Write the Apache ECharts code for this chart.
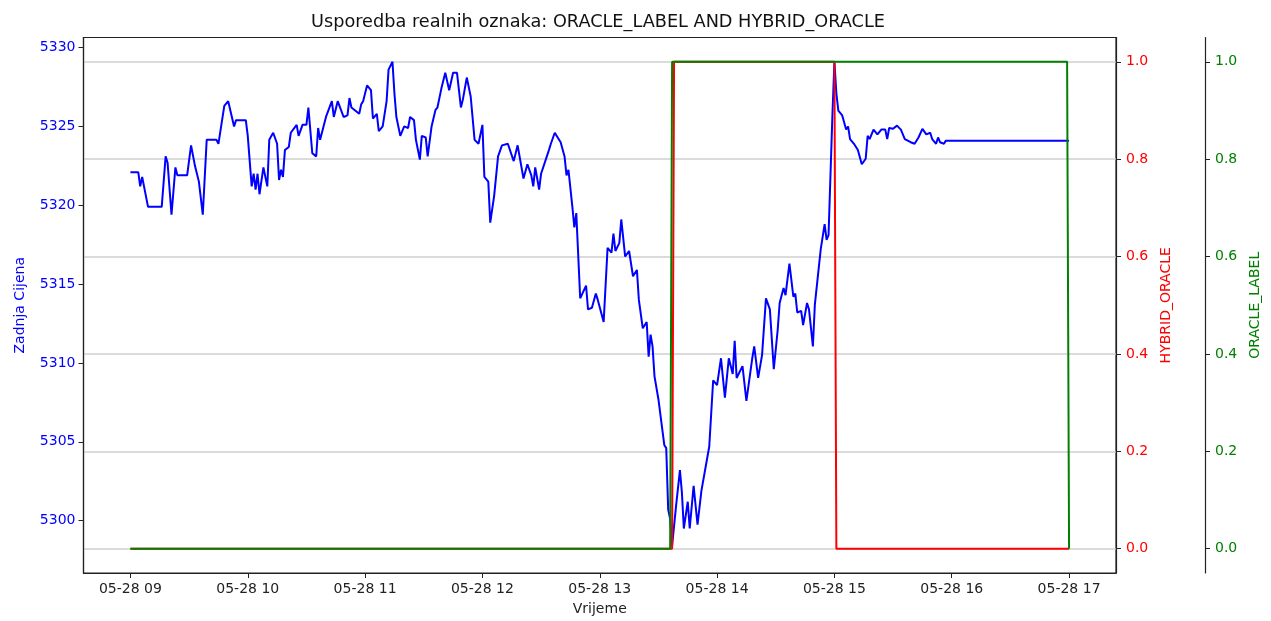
<!DOCTYPE html>
<html>
<head>
<meta charset="utf-8">
<title>Usporedba realnih oznaka</title>
<script src="https://cdn.jsdelivr.net/npm/echarts@6/dist/echarts.min.js"></script>
<style>
  html, body { margin: 0; padding: 0; background: #fff; }
  #chart { width: 1271px; height: 621px; }
</style>
</head>
<body>
<div id="chart"></div>
<script>
// minutes after 05-28 09:00
const priceMinutes = [
  0, 4, 5, 6, 7, 9, 16, 18, 19, 21, 23, 24, 29, 31, 33, 35, 37, 39, 44, 45,
  48, 49, 50, 53, 54, 59, 60, 62, 63, 64, 65, 66, 68, 70, 71, 73, 75, 76, 77, 78,
  79, 81, 82, 85, 86, 88, 90, 91, 93, 95, 96, 97, 100, 101, 103, 104, 106, 109, 111, 112,
  113, 117, 118, 119, 121, 123, 124, 126, 127, 129, 131, 132, 133, 134, 135, 136, 138, 140, 142, 143,
  145, 146, 148, 149, 151, 152, 154, 156, 157, 159, 161, 163, 165, 167, 169, 170, 172, 174, 176, 178,
  180, 181, 183, 184, 186, 188, 190, 193, 196, 198, 201, 203, 205, 206, 207, 209, 210, 214, 215, 217,
  220, 222, 223, 224, 226, 227, 228, 230, 233, 234, 236, 238, 239, 242, 244, 246, 247, 248, 250, 251,
  253, 255, 257, 259, 260, 262, 264, 265, 266, 267, 268, 270, 273, 274, 275, 276, 277, 279, 281, 282,
  283, 285, 286, 288, 290, 292, 293, 296, 298, 300, 302, 304, 306, 308, 309, 310, 313, 315, 318, 319,
  321, 323, 325, 327, 329, 331, 332, 334, 335, 337, 339, 340, 341, 343, 344, 346, 347, 349, 350, 351,
  353, 355, 356, 357, 359, 360, 361, 362, 364, 366, 367, 368, 370, 372, 374, 375, 376, 377, 378, 380,
  382, 384, 386, 387, 388, 390, 392, 394, 396, 399, 401, 403, 405, 407, 409, 410, 412, 413, 414, 416,
  417, 480
];
const priceValues = [
  5322.1, 5322.1, 5321.2, 5321.8, 5321.7, 5319.9, 5319.9, 5323.1, 5322.7, 5319.4, 5322.4, 5321.9, 5321.9, 5323.8, 5322.5, 5321.5, 5319.4, 5324.15, 5324.15, 5323.9,
  5326.3, 5326.4, 5326.6, 5325.0, 5325.4, 5325.4, 5324.4, 5321.2, 5322.0, 5321.0, 5322.0, 5320.7, 5322.4, 5321.2, 5324.15, 5324.6, 5323.9, 5321.6, 5322.25, 5321.8,
  5323.5, 5323.7, 5324.6, 5325.1, 5324.4, 5325.1, 5325.1, 5326.2, 5323.3, 5323.1, 5324.9, 5324.15, 5325.6, 5325.7, 5326.6, 5325.6, 5326.6, 5325.6, 5325.7, 5326.8,
  5326.2, 5325.8, 5326.4, 5326.6, 5327.6, 5327.3, 5325.5, 5325.8, 5324.7, 5325.0, 5326.6, 5328.6, 5328.6, 5329.1, 5327.1, 5325.6, 5324.4, 5325.0, 5324.9, 5325.6,
  5325.4, 5324.15, 5322.9, 5324.4, 5324.3, 5323.1, 5325.0, 5326.05, 5326.2, 5327.4, 5328.4, 5327.3, 5328.4, 5328.4, 5326.2, 5326.7, 5328.1, 5326.9, 5324.15, 5323.9,
  5325.1, 5321.8, 5321.5, 5318.9, 5320.6, 5323.1, 5323.8, 5323.9, 5322.8, 5323.8, 5321.7, 5322.6, 5321.9, 5321.2, 5322.4, 5321.0, 5322.0, 5323.5, 5323.9, 5324.6,
  5324.0, 5323.1, 5321.9, 5322.25, 5319.9, 5318.6, 5319.5, 5314.1, 5314.9, 5313.4, 5313.5, 5314.4, 5314.0, 5312.6, 5317.3, 5317.0, 5318.2, 5317.1, 5317.6, 5319.1,
  5316.75, 5317.1, 5315.5, 5315.9, 5314.0, 5312.2, 5312.6, 5310.4, 5311.8, 5311.05, 5309.15, 5307.7, 5304.8, 5304.6, 5300.7, 5300.1, 5298.4, 5300.9, 5303.2, 5301.8,
  5299.5, 5301.2, 5299.5, 5302.2, 5299.75, 5301.9, 5302.0, 5304.7, 5308.9, 5308.6, 5310.3, 5307.8, 5310.3, 5309.3, 5311.4, 5309.05, 5309.8, 5307.6, 5310.3, 5311.05,
  5309.05, 5310.5, 5314.1, 5313.4, 5309.6, 5312.1, 5313.8, 5314.75, 5314.3, 5316.3, 5314.2, 5314.4, 5313.2, 5313.3, 5312.4, 5313.8, 5313.4, 5311.05, 5313.7, 5313.7,
  5317.2, 5318.8, 5317.8, 5318.1, 5325.8, 5329.1, 5327.1, 5326.0, 5325.7, 5324.8, 5325.0, 5324.2, 5323.9, 5323.5, 5322.6, 5322.5, 5322.95, 5324.4, 5324.2, 5324.8,
  5324.5, 5324.8, 5324.8, 5324.2, 5324.9, 5324.85, 5325.05, 5324.8, 5324.2, 5324.0, 5323.9, 5324.3, 5324.85, 5324.5, 5324.6, 5324.2, 5323.9, 5324.3, 5324.0, 5323.9,
  5324.1, 5324.1
];

const hybridMinutes = [0, 277, 278, 360, 361, 480];
const hybridValues = [0, 0, 1, 1, 0, 0];

const labelMinutes = [0, 276, 277, 479, 480];
const labelValues = [0, 0, 1, 1, 0];

const hourTicks = [0, 60, 120, 180, 240, 300, 360, 420, 480];
const priceTicks = [5300, 5305, 5310, 5315, 5320, 5325, 5330];
const oracleTicks = [0, 0.2, 0.4, 0.6, 0.8, 1.0];

function pairs (xs, ys) {
  return xs.map((x, i) => [x, ys[i]])
}

const font = 'DejaVu Sans'

function oracleAxis (name, color, offset) {
  return {
    type: 'value',
    position: 'right',
    offset: offset,
    min: -0.05,
    max: 1.05,
    name: name,
    nameLocation: 'middle',
    nameRotate: 90,
    nameGap: 40,
    nameTextStyle: { color: color, fontFamily: font, fontSize: 14 },
    axisLine: { show: true, onZero: false, lineStyle: { color: '#222', width: 1.2 } },
    axisTick: { show: true, length: 5, customValues: oracleTicks, lineStyle: { color: '#222' } },
    axisLabel: {
      customValues: oracleTicks,
      margin: 10,
      color: color,
      fontFamily: font,
      fontSize: 14,
      formatter: v => v.toFixed(1)
    },
    splitLine: { show: false }
  }
}

const chart = echarts.init(document.getElementById('chart'))

const hybridAxis = oracleAxis('HYBRID_ORACLE', 'red', 0)
hybridAxis.splitLine = { show: true, lineStyle: { color: '#cfcfcf', width: 1.5 } }
const labelAxis = oracleAxis('ORACLE_LABEL', 'green', 89)

chart.setOption({
  animation: false,
  backgroundColor: '#fff',
  title: {
    text: 'Usporedba realnih oznaka: ORACLE_LABEL AND HYBRID_ORACLE',
    left: 593,
    textAlign: 'center',
    top: 8,
    textStyle: { fontFamily: font, fontSize: 17.7, fontWeight: 'normal', color: '#111' }
  },
  grid: {
    left: 83.5,
    right: 155,
    top: 37.5,
    bottom: 47.5,
    show: true,
    borderColor: '#222',
    borderWidth: 1.2,
    backgroundColor: 'transparent'
  },
  xAxis: {
    type: 'value',
    min: -24,
    max: 504,
    name: 'Vrijeme',
    nameLocation: 'middle',
    nameGap: 29,
    nameTextStyle: { color: '#222', fontFamily: font, fontSize: 14 },
    axisLine: { show: true, onZero: false, lineStyle: { color: '#222', width: 1.2 } },
    axisTick: { show: true, length: 5, customValues: hourTicks, lineStyle: { color: '#222' } },
    axisLabel: {
      customValues: hourTicks,
      margin: 9,
      color: '#222',
      fontFamily: font,
      fontSize: 14,
      formatter: v => '05-28 ' + String(9 + v / 60).padStart(2, '0')
    },
    splitLine: { show: false }
  },
  yAxis: [
    {
      type: 'value',
      position: 'left',
      min: 5296.68,
      max: 5330.64,
      name: 'Zadnja Cijena',
      nameLocation: 'middle',
      nameRotate: 90,
      nameGap: 56,
      nameTextStyle: { color: 'blue', fontFamily: font, fontSize: 14 },
      axisLine: { show: true, onZero: false, lineStyle: { color: '#222', width: 1.2 } },
      axisTick: { show: true, length: 5, customValues: priceTicks, lineStyle: { color: '#222' } },
      axisLabel: {
        customValues: priceTicks,
        margin: 8,
        color: 'blue',
        fontFamily: font,
        fontSize: 14,
        formatter: v => String(v)
      },
      splitLine: { show: false }
    },
    hybridAxis,
    labelAxis
  ],
  series: [
    {
      name: 'Zadnja Cijena',
      type: 'line',
      yAxisIndex: 0,
      data: pairs(priceMinutes, priceValues),
      showSymbol: false,
      lineStyle: { color: 'blue', width: 2 }
    },
    {
      name: 'HYBRID_ORACLE',
      type: 'line',
      yAxisIndex: 1,
      data: pairs(hybridMinutes, hybridValues),
      showSymbol: false,
      lineStyle: { color: 'red', width: 2 }
    },
    {
      name: 'ORACLE_LABEL',
      type: 'line',
      yAxisIndex: 2,
      data: pairs(labelMinutes, labelValues),
      showSymbol: false,
      lineStyle: { color: 'green', width: 2 }
    }
  ]
})
</script>
</body>
</html>
